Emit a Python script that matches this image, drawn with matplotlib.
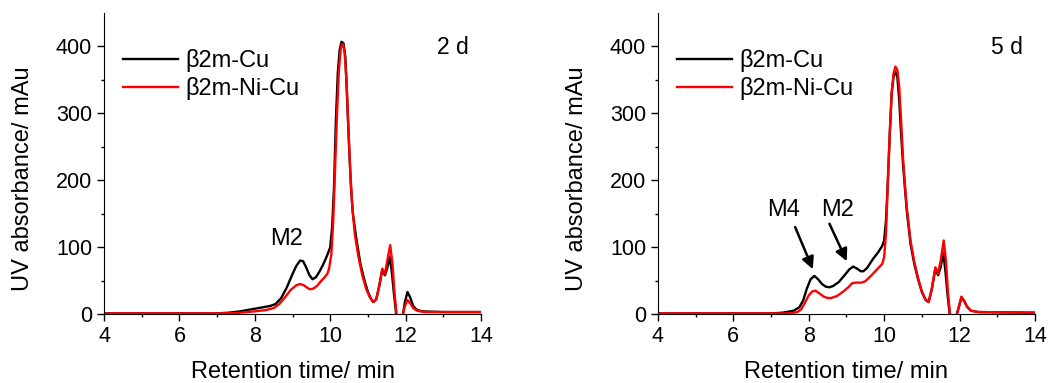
import numpy as np
import matplotlib
matplotlib.use('Agg')
import matplotlib.pyplot as plt

plt.rcParams['font.family'] = ['Liberation Sans', 'DejaVu Sans']

# retention time (min) / absorbance (mAu)
t_cu_2d = [4.0, 5.0, 6.0, 7.0, 7.3, 7.6, 8.0, 8.2, 8.4, 8.55, 8.7, 8.85, 9.0, 9.1,
           9.2, 9.28, 9.36, 9.45, 9.53, 9.62, 9.72, 9.82, 9.92, 10.0, 10.05, 10.1,
           10.15, 10.2, 10.25, 10.3, 10.35, 10.4, 10.45, 10.5, 10.55, 10.6, 10.7,
           10.8, 10.9, 11.0, 11.07, 11.14, 11.22, 11.3, 11.38, 11.45, 11.51, 11.57,
           11.63, 11.69, 11.74, 11.76, 11.9, 11.93, 11.98, 12.05, 12.12, 12.2, 12.3,
           12.45, 13.0, 14.0]
a_cu_2d = [1, 1, 1, 1, 2, 4, 8, 10, 12, 15, 24, 40, 60, 72,
           80, 79, 70, 58, 52, 55, 64, 75, 88, 100, 130, 190,
           290, 360, 395, 407, 405, 385, 320, 250, 190, 150, 110,
           75, 52, 33, 24, 18, 22, 42, 66, 58, 68, 86,
           65, 30, 5, -10, -10, 0, 18, 33, 25, 12, 6,
           4, 3, 3]

t_nicu_2d = [4.0, 5.0, 6.0, 7.0, 7.5, 8.0, 8.3, 8.5, 8.65, 8.8, 8.95, 9.1, 9.2, 9.3,
             9.4, 9.46, 9.55, 9.65, 9.75, 9.85, 9.92, 9.97, 10.03, 10.08, 10.13, 10.18,
             10.23, 10.28, 10.33, 10.38, 10.43, 10.48, 10.53, 10.58, 10.65, 10.75,
             10.85, 10.95, 11.05, 11.14, 11.22, 11.3, 11.38, 11.45, 11.52, 11.59,
             11.65, 11.7, 11.75, 11.77, 11.9, 11.93, 11.98, 12.05, 12.12, 12.2, 12.3,
             12.5, 14.0]
a_nicu_2d = [1, 1, 1, 1, 1.5, 4, 6, 9, 15, 25, 36, 43, 45, 43,
             39, 37, 38, 42, 49, 55, 60, 68, 90, 140, 220, 300,
             365, 398, 404, 392, 350, 280, 215, 165, 120, 85,
             58, 38, 25, 18, 22, 42, 68, 60, 82, 103,
             75, 35, 5, -10, -10, 0, 12, 21, 16, 9, 5,
             3, 3]

t_cu_5d = [4.0, 5.0, 6.0, 7.0, 7.3, 7.6, 7.75, 7.85, 7.95, 8.05, 8.15, 8.25, 8.35,
           8.45, 8.55, 8.65, 8.8, 8.95, 9.08, 9.18, 9.28, 9.38, 9.45, 9.55, 9.7, 9.85,
           9.95, 10.0, 10.05, 10.1, 10.15, 10.2, 10.25, 10.3, 10.35, 10.4, 10.45, 10.5,
           10.55, 10.6, 10.7, 10.8, 10.9, 11.0, 11.1, 11.18, 11.26, 11.36, 11.43,
           11.5, 11.57, 11.63, 11.68, 11.73, 11.75, 11.9, 11.93, 11.98, 12.05, 12.12,
           12.2, 12.3, 12.5, 14.0]
a_cu_5d = [1, 1, 1, 1, 2, 5, 10, 20, 38, 52, 57, 52, 45,
           41, 40, 42, 48, 58, 67, 71, 68, 64, 64, 69, 82, 93,
           102, 110, 140, 200, 270, 330, 355, 362, 355, 320, 270, 225,
           190, 155, 105, 75, 52, 33, 21, 18, 36, 68, 58,
           70, 92, 62, 30, 5, -10, -10, 0, 10, 25, 20,
           11, 5, 3, 2]

t_nicu_5d = [4.0, 5.0, 6.0, 7.0, 7.5, 7.7, 7.8, 7.9, 8.0, 8.1, 8.18, 8.28, 8.4, 8.5,
             8.6, 8.75, 8.9, 9.05, 9.15, 9.25, 9.4, 9.5, 9.65, 9.8, 9.9, 9.95, 10.0,
             10.05, 10.1, 10.15, 10.2, 10.25, 10.3, 10.35, 10.4, 10.45, 10.5, 10.55,
             10.6, 10.7, 10.8, 10.9, 11.0, 11.1, 11.18, 11.26, 11.36, 11.43, 11.5,
             11.58, 11.64, 11.69, 11.74, 11.76, 11.9, 11.93, 11.98, 12.05, 12.12, 12.2,
             12.3, 12.5, 14.0]
a_nicu_5d = [1, 1, 1, 1, 1, 3, 7, 17, 28, 34, 35, 31, 26, 24,
             24, 27, 33, 40, 46, 47, 47, 49, 57, 66, 72, 75, 85,
             120, 200, 270, 330, 360, 370, 365, 340, 290, 235, 195,
             160, 110, 78, 54, 34, 22, 18, 36, 70, 60, 80,
             110, 80, 35, 5, -10, -10, 0, 10, 26, 20, 11,
             5, 3, 2]

series_labels = ['β2m-Cu', 'β2m-Ni-Cu']
panel_tags = ['2 d', '5 d']

fig = plt.figure(figsize=(10.51, 3.83), dpi=100)
ax1 = fig.add_axes([0.099, 0.180, 0.3587, 0.786])
ax2 = fig.add_axes([0.626, 0.180, 0.3587, 0.786])

panels = [(ax1, t_cu_2d, a_cu_2d, t_nicu_2d, a_nicu_2d),
          (ax2, t_cu_5d, a_cu_5d, t_nicu_5d, a_nicu_5d)]

for (ax, tb, ab, tr, ar), tag in zip(panels, panel_tags):
    ax.plot(tb, ab, color='black', lw=1.7, label=series_labels[0])
    ax.plot(tr, ar, color='red', lw=1.7, label=series_labels[1])
    ax.set_xlim(4, 14)
    ax.set_ylim(0, 450)
    ax.set_xticks([4, 6, 8, 10, 12, 14])
    ax.set_xticks([5, 7, 9, 11, 13], minor=True)
    ax.set_yticks([0, 100, 200, 300, 400])
    ax.set_yticks([50, 150, 250, 350], minor=True)
    ax.spines['top'].set_visible(False)
    ax.spines['right'].set_visible(False)
    ax.tick_params(which='major', direction='out', length=5, width=1, labelsize=15.5)
    ax.tick_params(which='minor', direction='out', length=2.5, width=1)
    ax.set_xlabel('Retention time/ min', fontsize=17)
    ax.set_ylabel('UV absorbance/ mAu', fontsize=17)
    ax.xaxis.set_label_coords(0.5, -0.155)
    ax.yaxis.set_label_coords(-0.186, 0.45)
    ax.legend(loc='upper left', bbox_to_anchor=(0.05, 0.88), frameon=False,
              fontsize=17, handlelength=2.35, handletextpad=0.3,
              labelspacing=0.22, borderpad=0, borderaxespad=0)
    ax.text(12.83, 398, tag, fontsize=16.5, va='center', ha='left')

ax1.text(8.85, 112, 'M2', fontsize=17, ha='center', va='center')

ax2.text(7.34, 155, 'M4', fontsize=17, ha='center', va='center')
ax2.text(8.77, 155, 'M2', fontsize=17, ha='center', va='center')
ax2.annotate('', xy=(8.11, 67), xytext=(7.64, 130),
             arrowprops=dict(arrowstyle='-|>', color='black', lw=1.8,
                             mutation_scale=18, shrinkA=0, shrinkB=0))
ax2.annotate('', xy=(9.01, 79), xytext=(8.55, 135),
             arrowprops=dict(arrowstyle='-|>', color='black', lw=1.8,
                             mutation_scale=18, shrinkA=0, shrinkB=0))

fig.savefig('out.png', dpi=100)
